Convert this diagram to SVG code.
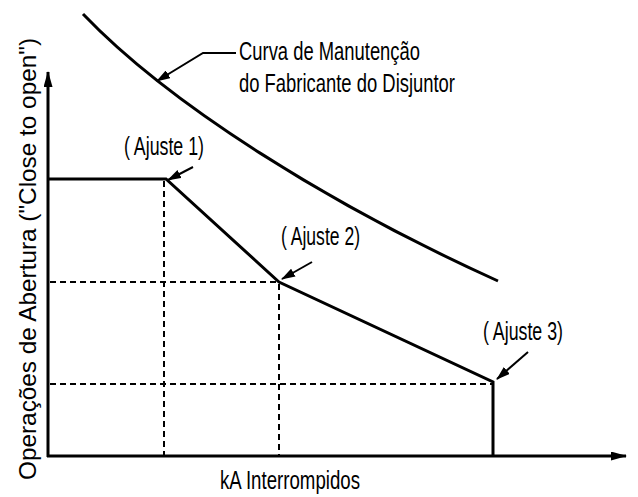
<svg xmlns="http://www.w3.org/2000/svg" width="638" height="497" viewBox="0 0 638 497">
<style>
.ax{fill:none;stroke:#000;stroke-width:3}
.cv{fill:none;stroke:#000;stroke-width:3;stroke-linejoin:miter}
.dash{fill:none;stroke:#000;stroke-width:2;stroke-dasharray:6,4}
.ld{fill:none;stroke:#000;stroke-width:2}
.lbl{font-family:"Liberation Sans Narrow","Liberation Sans",Arial,sans-serif;font-size:25px;fill:#000}
.ylbl{font-family:"Liberation Sans",Arial,sans-serif;font-size:24px;fill:#000}
</style>
<defs>
<marker id="ah" markerUnits="userSpaceOnUse" markerWidth="14" markerHeight="9" refX="13" refY="4.5" orient="auto">
<path d="M0,0 L14,4.5 L0,9 z" fill="#000"/>
</marker>
<marker id="axh" markerUnits="userSpaceOnUse" markerWidth="16" markerHeight="9" refX="15" refY="4.5" orient="auto">
<path d="M0,0 L16,4.5 L0,9 z" fill="#000"/>
</marker>
</defs>
<g id="axes">
<path class="ax" d="M48,457 L48,72" marker-end="url(#axh)"/>
<path class="ax" d="M47,456 L626,456" marker-end="url(#axh)"/>
</g>
<g id="grid">
<path class="dash" d="M164,181 L164,455"/>
<path class="dash" d="M50,282 L278,282"/>
<path class="dash" d="M279,284 L279,455"/>
<path class="dash" d="M50,384 L492,384"/>
</g>
<g id="maint-curve">
<path class="cv" d="M83,14 C170,105 330,205 498,281"/>
</g>
<g id="setting-curve">
<path class="cv" d="M48,179 L166,179 L279,282 L493,382 L493,456"/>
</g>
<g id="connectors">
<path class="ld" d="M236,53 L203,53 L157,81" marker-end="url(#ah)"/>
<path class="ld" d="M193,167 L168,180" marker-end="url(#ah)"/>
<path class="ld" d="M312,262 L282,279" marker-end="url(#ah)"/>
<path class="ld" d="M528,352 L497,379" marker-end="url(#ah)"/>
</g>
<g id="label-curva">
<text class="lbl" x="239" y="60" textLength="181" lengthAdjust="spacingAndGlyphs">Curva de Manutenção</text>
<text class="lbl" x="239" y="92" textLength="216" lengthAdjust="spacingAndGlyphs">do Fabricante do Disjuntor</text>
</g>
<g id="ajuste1"><text class="lbl" x="124" y="155" textLength="80" lengthAdjust="spacingAndGlyphs">( Ajuste 1)</text></g>
<g id="ajuste2"><text class="lbl" x="281" y="245" textLength="79" lengthAdjust="spacingAndGlyphs">( Ajuste 2)</text></g>
<g id="ajuste3"><text class="lbl" x="483" y="340" textLength="80" lengthAdjust="spacingAndGlyphs">( Ajuste 3)</text></g>
<g id="xlabel"><text class="lbl" x="220" y="489" textLength="140" lengthAdjust="spacingAndGlyphs">kA Interrompidos</text></g>
<g id="ylabel"><text class="ylbl" transform="translate(36,480) rotate(-90)" x="0" y="0" textLength="442" lengthAdjust="spacingAndGlyphs">Operações de Abertura ("Close to open")</text></g>
</svg>
